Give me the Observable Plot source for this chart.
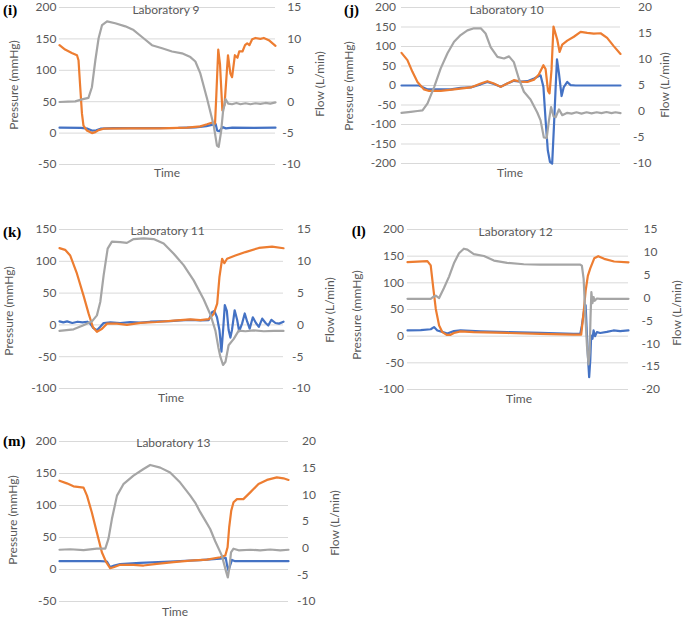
<!DOCTYPE html>
<html>
<head>
<meta charset="utf-8">
<script src="https://cdn.jsdelivr.net/npm/d3@7"></script>
<script src="https://cdn.jsdelivr.net/npm/@observablehq/plot@0.6"></script>
<style>
  html, body { margin: 0; padding: 0; background: #fff; }
  #root { position: relative; width: 685px; height: 618px; background: #fff; overflow: hidden; font-family: Lato, "Open Sans", sans-serif; }
  .panel { position: absolute; }
  .lbl { position: absolute; white-space: nowrap; color: #595959; font-size: 12px; line-height: 1; }
  .letter { position: absolute; white-space: nowrap; font-family: "Liberation Serif", "DejaVu Serif", serif; font-weight: bold; font-size: 15px; color: #000; line-height: 1; }
</style>
</head>
<body>
<div id="root"></div>
<script>
// ---------- DATA (time normalised 0..100; pressure in mmHg, flow in L/min) ----------
const titles = ["Laboratory 9", "Laboratory 10", "Laboratory 11", "Laboratory 12", "Laboratory 13"];
const letters = ["(i)", "(j)", "(k)", "(l)", "(m)"];
const pressureDomains = [[-50, 200], [-200, 200], [-100, 150], [-100, 200], [-50, 200]];
const flowDomains = [[-10, 15], [-10, 20], [-10, 15], [-20, 15], [-10, 20]];
const pressureStep = 50;
const flowStep = 5;

// Laboratory 9
const lab9Blue = [[0,8.6],[10,8.4],[13,7],[15,4],[17,4.5],[19,7],[25,7.8],[40,8],[55,8.2],[63,9],[68,11],[71,13.5],[72.3,14.5],[73,4],[74,3],[75.5,9.5],[77,7.5],[80,8.6],[90,8.3],[100,8.6]];
const lab9Orange = [[0,140],[2.6,133],[5.7,127.6],[8.1,124],[8.8,116],[9.6,73],[10.4,31],[11.1,12],[12.7,4],[15,0],[16.6,1.6],[18.1,4.7],[20.4,7],[32.8,7.5],[46.7,7.5],[59.1,8.6],[65.2,10.7],[68.3,14],[70.8,17],[72,15],[72.6,60],[73.5,133],[74.3,110],[75.4,36],[76.4,45],[78,124],[79.1,95],[79.9,89],[81.2,124],[82.4,120],[83.2,130],[84.7,130],[85.9,140],[86.9,143],[87.9,140],[89.2,149.5],[90.7,151.5],[93,150],[94.6,151.5],[96.9,148],[100,139]];
const lab9Gray = [[0,-0.05],[4,0],[7.3,0.05],[10.4,0.37],[13.4,0.6],[15,2.3],[16.6,6.6],[18.1,10.1],[19.7,12.2],[22,12.8],[25.8,12.5],[30.5,12],[34.3,11.4],[38.2,10.3],[42.8,9],[47.5,8.5],[52.1,8],[56.7,7.7],[60.6,7.1],[62.9,6.4],[65.2,4.5],[68.3,0.5],[71.4,-3.8],[72.9,-7],[73.7,-7.2],[74.8,-4.8],[75.7,-1.6],[76.9,0.4],[78.1,-0.3],[79.9,-0.4],[81.9,-0.2],[83.8,-0.4],[86.1,-0.25],[88.4,-0.4],[90.7,-0.25],[93,-0.35],[95.3,-0.2],[97.6,-0.3],[100,-0.1]];

// Laboratory 10
const lab10Blue = [[0,0],[8,0],[11.9,-10],[17.9,-10],[22.5,-10],[27,-6],[31.6,-5],[36.2,3],[39.2,9],[42.2,4],[45.3,-3],[48.3,5],[51.3,12],[54.4,10],[57.5,11],[60.5,18],[63.5,26],[64.8,-3.5],[65.8,-89],[66.8,-166],[67.8,-196],[68.8,-200],[69.6,-106],[70.4,-3.5],[71,67],[71.9,31],[73.1,-27],[74.1,-4],[75.7,9],[77.2,1],[79.5,0],[100,0]];
const lab10Orange = [[0,83.6],[2.7,65],[5,35],[7.3,9],[10.3,-10],[12.6,-14],[17.9,-14],[24,-10],[31.6,-5],[36.2,5],[39.2,11],[42.2,5],[45.3,-3.5],[48.3,5],[51.3,13.7],[54.4,10],[57.5,9],[60.5,15],[62.7,28],[64.8,52],[65.8,42],[66.9,-14],[67.6,-20],[68.5,40],[69.4,151],[71.1,118],[72.2,86],[73.4,105],[75.7,115],[78.7,125],[81.8,137.5],[84.8,135],[87.8,133],[90.9,134],[93.9,122],[96.9,101],[100,81]];
const lab10Gray = [[0,-0.25],[4.2,-0.06],[7.3,0.1],[9.6,0.2],[11.9,1.55],[14.9,4.7],[17.9,8.3],[21,11.2],[24,13.4],[27,14.7],[30.1,15.6],[33.1,16],[36.2,16],[38.4,15],[40.7,12.4],[43.8,10.5],[46.8,10.2],[49.1,10.6],[51.3,9.5],[53.6,6.3],[55.9,3.8],[58.9,2.3],[62,-0.2],[63.5,-1.7],[65,-5],[66.3,-5.1],[67.3,-1.8],[68.3,0.85],[69.4,-0.9],[70.4,-1.1],[71.9,0.4],[73.4,-0.7],[75.7,-0.25],[77.7,-0.4],[79.9,-0.15],[82.2,-0.4],[84.5,-0.15],[86.8,-0.35],[89.1,-0.15],[91.3,-0.3],[93.6,-0.1],[95.9,-0.3],[97.7,-0.15],[100,-0.3]];

// Laboratory 11
const lab11Blue = [[0,5.6],[1.7,4],[3.4,5.5],[5.7,3],[8.1,5],[10.3,4],[12.4,5],[13.7,2],[15.1,-5],[16.7,-8.5],[18.2,-3],[19.7,3],[22.7,4],[27.1,3],[31.6,4.5],[36.1,3.5],[40.5,5],[45,5.5],[49.5,6],[54,7],[58.4,8],[62.9,7],[66.6,7.5],[68.1,20],[69.1,22],[70.3,12],[71.4,-8],[72.3,-42],[73.1,-5],[73.8,31],[74.7,22],[75.5,-8],[76.3,-20],[77,-8],[78.2,23],[79.3,8],[80.2,-10],[81.5,2],[82.7,18],[83.8,5],[84.9,-6],[86.3,12],[87.7,3],[89,-3],[90.5,10],[92,3],[93.2,-1],[94.6,8],[96.4,3],[98,2],[100,5]];
const lab11Orange = [[0,120.7],[2.5,118],[4.8,109],[7.8,80.5],[10.7,46.5],[13,17.7],[14.9,-3.3],[16.7,-11],[19,-6],[21.2,2],[25.7,2],[30.1,0],[36.1,3.3],[43.5,4.6],[51,6.7],[58.4,8.6],[62.9,7.5],[66.6,9],[68.8,17],[70.4,33.4],[71.4,75],[72.6,104],[73.6,97],[74.8,104],[78.5,109],[83,114.5],[89,121],[94.9,123],[100,120.5]];
const lab11Gray = [[0,-0.95],[6.3,-0.7],[10.7,-0.06],[14.5,0.56],[16.7,1.5],[18.2,3.6],[19.7,7.8],[21.5,12],[23.4,13.1],[27.1,13],[30.1,12.9],[33.1,13.5],[37.6,13.6],[42,13.5],[46.5,12.8],[51,11.2],[55.4,9.4],[59.9,7],[64.4,4],[67.4,1.6],[69.6,-0.9],[70.9,-3.5],[71.8,-5],[73,-6.3],[74.1,-5.8],[75.5,-3.2],[77.8,-2.2],[80,-0.9],[83,-1],[86.7,-0.85],[91.2,-1],[95.7,-0.95],[100,-0.95]];

// Laboratory 12
const lab12Blue = [[0,10.7],[6,11.5],[10.5,13],[12,17],[13.5,10.7],[15,9],[18,5],[21,9.4],[24,10.7],[33,9],[45.1,7.5],[60.1,6],[75.1,4.4],[78.2,4.5],[78.9,20],[80,51],[80.6,58],[81.2,1],[81.8,-49],[82.2,-77],[82.7,-45],[83.1,1],[83.7,-5],[84.2,10.7],[84.9,0],[85.7,7.5],[87.2,6],[90.2,8],[93.2,10.7],[96.2,9.5],[100,10.7]];
const lab12Orange = [[0,138.8],[9,140.6],[10.5,132.6],[11.7,89],[12.8,51],[14.3,20],[15.8,7.5],[17.7,2.5],[19.5,2.6],[21,6],[24,9],[30,7.5],[45.1,6],[60.1,4.4],[75.1,3],[78.6,3],[79.7,45],[80.6,85],[81.6,113],[82.7,127],[84.5,146],[86.3,150],[89,145],[93.5,140],[100,138.5]];
const lab12Gray = [[0,-0.17],[10.5,-0.17],[11.8,0.3],[12.8,0.53],[14.3,0],[16.5,2.2],[18.8,4.7],[21,7.6],[23.3,9.8],[25.5,10.8],[27.1,10.6],[30,9.6],[34.6,9.2],[39.1,8.2],[45.1,7.7],[52.6,7.4],[60.1,7.3],[67.7,7.3],[78.2,7.3],[78.9,7.1],[79.7,4.2],[80.4,-3.1],[81.2,-10.4],[81.9,-14.5],[82.4,-12],[82.8,-4.5],[83.2,1.3],[83.7,-1.1],[84.2,0.2],[84.7,-0.6],[85.7,-0.1],[87.2,-0.17],[100,-0.17]];

// Laboratory 13
const lab13Blue = [[0,13],[9,13],[17.8,13],[20.7,12.5],[22.1,4],[23.9,6],[26.5,8.5],[35.2,10.5],[48.3,12.5],[61.4,14.5],[70.2,17],[72.6,18],[73.2,6],[73.8,-2],[74.4,5],[75.3,15],[76.7,13],[100,13]];
const lab13Orange = [[0,138.8],[3.2,134.6],[6.1,130],[10.5,128],[12,115.4],[14.1,89.4],[16.3,58],[18.5,27],[20.4,11.4],[22.1,2],[23.6,3.6],[26.5,7.3],[32.3,7.3],[36.7,6.2],[42.5,8.8],[49.8,11.4],[57.1,14],[64.4,15.5],[70.2,19.2],[72.4,21.8],[73.4,34.8],[74.1,66],[75,92],[76,105],[77.5,110],[80.3,110],[83.3,120.5],[86.9,133.6],[90.6,140],[94.9,144],[97.8,142.5],[100,139.9]];
const lab13Gray = [[0,-0.3],[4.7,-0.2],[10.5,-0.35],[16.3,-0.1],[20,-0.1],[21.4,1.8],[22.9,5.5],[25.1,9.85],[27.9,12],[32.3,13.6],[36.7,14.85],[39.6,15.6],[44,15.1],[48.3,14.2],[52.7,12.3],[57.1,9.85],[59.3,8.5],[61.4,6.8],[63.6,5.2],[65.8,3.6],[68,1.3],[70.9,-1.4],[72.7,-4.3],[73.5,-5.5],[74.2,-3.6],[74.9,-0.8],[76,-0.1],[78.2,-0.4],[83.3,-0.3],[87.6,-0.4],[92,-0.25],[96.4,-0.4],[100,-0.3]];

const blueSeries = [lab9Blue, lab10Blue, lab11Blue, lab12Blue, lab13Blue];
const orangeSeries = [lab9Orange, lab10Orange, lab11Orange, lab12Orange, lab13Orange];
const graySeries = [lab9Gray, lab10Gray, lab11Gray, lab12Gray, lab13Gray];

// ---------- LAYOUT (positions only) ----------
const layout = [
  {left: 0,   top: 0,   w: 340, h: 180, mL: 59, mR: 65, mT: 7,  mB: 16, pad: 3,   dxPos: 11.7, dxNeg: 6.7,
   title: [166, 10], time: [167, 173], pLab: [14, 85], fLab: [320, 84], letter: [3, 10]},
  {left: 340, top: 0,   w: 345, h: 180, mL: 61, mR: 65, mT: 7,  mB: 17, pad: 5.5, dxPos: 17.5, dxNeg: 12.5,
   title: [506.7, 10], time: [510, 173], pLab: [349.3, 86], fLab: [665, 85], letter: [344, 10]},
  {left: 0,   top: 215, w: 340, h: 180, mL: 59, mR: 57, mT: 14, mB: 7,  pad: 3,   dxPos: 13.5, dxNeg: 8.5,
   title: [167.7, 231], time: [171, 398.3], pLab: [9, 311], fLab: [330, 310], letter: [3, 231.7]},
  {left: 340, top: 215, w: 345, h: 180, mL: 67, mR: 57, mT: 14, mB: 6,  pad: 3.5, dxPos: 15, dxNeg: 13,
   title: [515.7, 231.7], time: [519, 399], pLab: [356.7, 315], fLab: [676.7, 313], letter: [351.7, 231]},
  {left: 0,   top: 415, w: 340, h: 200, mL: 59, mR: 52, mT: 26, mB: 14, pad: 3,   dxPos: 13.5, dxNeg: 8.5,
   title: [173.3, 443], time: [175, 611.7], pLab: [13.3, 520], fLab: [335, 523], letter: [3, 441]}
];

const root = document.getElementById("root");

function addLabel(text, x, y, cls, rotate, anchorLeft) {
  const el = document.createElement("div");
  el.className = cls;
  el.textContent = text;
  el.style.left = x + "px";
  el.style.top = y + "px";
  let tr = anchorLeft ? "translate(0,-50%)" : "translate(-50%,-50%)";
  if (rotate) tr += " rotate(-90deg)";
  el.style.transform = tr;
  root.appendChild(el);
}

for (let i = 0; i < 5; i++) {
  const L = layout[i];
  const [pmin, pmax] = pressureDomains[i];
  const [fmin, fmax] = flowDomains[i];
  const toP = f => pmin + (f - fmin) * (pmax - pmin) / (fmax - fmin);
  const leftTicks = d3.range(pmin, pmax + 1, pressureStep);
  const rightTicks = d3.range(fmin, fmax + 1, flowStep);

  const chart = Plot.plot({
    width: L.w, height: L.h,
    marginLeft: L.mL, marginRight: L.mR, marginTop: L.mT, marginBottom: L.mB,
    x: {domain: [0, 100], axis: null},
    y: {domain: [pmin, pmax]},
    style: {fontFamily: "Lato, 'Open Sans', sans-serif", fontSize: "12px", color: "#595959", background: "transparent", overflow: "visible"},
    marks: [
      Plot.ruleY(leftTicks, {stroke: "#d9d9d9", strokeWidth: 1}),
      Plot.axisY(leftTicks, {anchor: "left", tickSize: 0, tickPadding: L.pad, tickFormat: d => String(d), label: null, fontSize: 12}),
      Plot.line(blueSeries[i], {x: d => d[0], y: d => d[1], stroke: "#4472C4", strokeWidth: 2.2, strokeLinejoin: "round", strokeLinecap: "round"}),
      Plot.line(orangeSeries[i], {x: d => d[0], y: d => d[1], stroke: "#ED7D31", strokeWidth: 2.2, strokeLinejoin: "round", strokeLinecap: "round"}),
      Plot.line(graySeries[i], {x: d => d[0], y: d => toP(d[1]), stroke: "#A5A5A5", strokeWidth: 2.2, strokeLinejoin: "round", strokeLinecap: "round"}),
      Plot.text(rightTicks.filter(v => v >= 0), {y: v => toP(v), text: v => String(v), frameAnchor: "right", textAnchor: "start", dx: L.dxPos, fill: "#595959", fontSize: 12}),
      Plot.text(rightTicks.filter(v => v < 0), {y: v => toP(v), text: v => String(v), frameAnchor: "right", textAnchor: "start", dx: L.dxNeg, fill: "#595959", fontSize: 12})
    ]
  });
  const wrap = document.createElement("div");
  wrap.className = "panel";
  wrap.style.left = L.left + "px";
  wrap.style.top = L.top + "px";
  wrap.appendChild(chart);
  root.appendChild(wrap);

  addLabel(titles[i], L.title[0], L.title[1], "lbl", false, false);
  addLabel("Time", L.time[0], L.time[1], "lbl", false, false);
  addLabel("Pressure (mmHg)", L.pLab[0], L.pLab[1], "lbl", true, false);
  addLabel("Flow (L/min)", L.fLab[0], L.fLab[1], "lbl", true, false);
  addLabel(letters[i], L.letter[0], L.letter[1], "letter", false, true);
}
</script>
</body>
</html>
